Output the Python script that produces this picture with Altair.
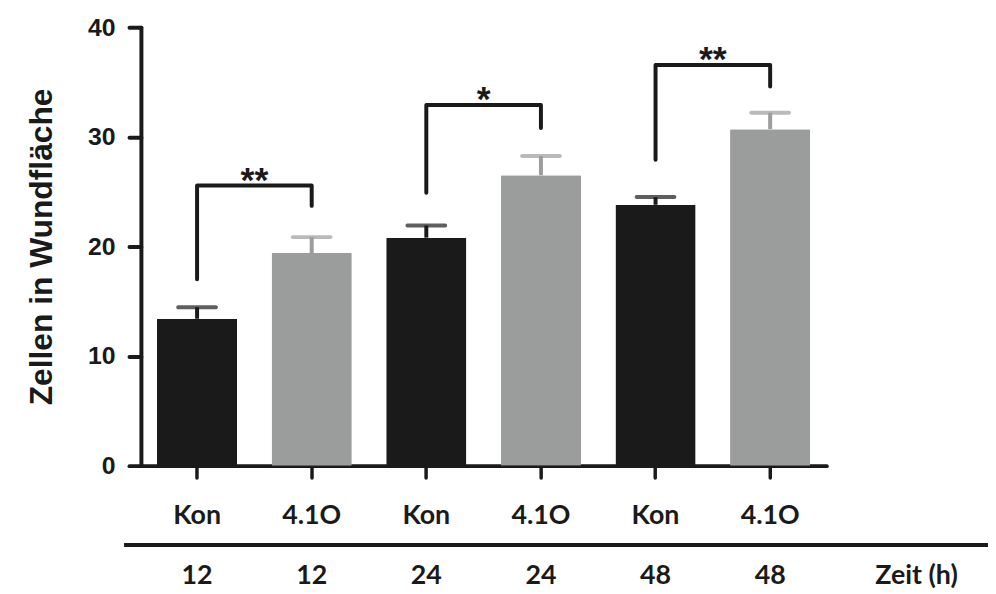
import altair as alt
import pandas as pd

# ---- data ----
keys = ["Kon 12", "4.1O 12", "Kon 24", "4.1O 24", "Kon 48", "4.1O 48"]
groups = ["Kon", "4.1O", "Kon", "4.1O", "Kon", "4.1O"]
times = ["12", "12", "24", "24", "48", "48"]
means = [13.4, 19.4, 20.8, 26.5, 23.8, 30.7]
errors = [1.05, 1.45, 1.1, 1.75, 0.7, 1.5]

bracket_ids = ["b1", "b2", "b3"]
bracket_left = ["Kon 12", "Kon 24", "Kon 48"]
bracket_right = ["4.1O 12", "4.1O 24", "4.1O 48"]
bracket_left_low = [17.0, 24.9, 27.9]
bracket_top = [25.55, 32.9, 36.55]
bracket_right_low = [23.7, 30.8, 34.6]
bracket_stars = ["**", "*", "**"]

y_ticks = [0, 10, 20, 30, 40]
x_title = "Zeit (h)"
y_title = "Zellen in Wundfläche"

# ---- tables ----
bars = pd.DataFrame({"key": keys, "group": groups, "time": times,
                     "mean": means, "err": errors})
bars["upper"] = bars["mean"] + bars["err"]

rows = []
for i, b in enumerate(bracket_ids):
    pts = [(bracket_left[i], bracket_left_low[i]), (bracket_left[i], bracket_top[i]),
           (bracket_right[i], bracket_top[i]), (bracket_right[i], bracket_right_low[i])]
    for j, (k, v) in enumerate(pts):
        rows.append({"bracket": b, "key": k, "v": v, "order": j})
brackets = pd.DataFrame(rows)
stars = pd.DataFrame({"key": bracket_left, "v": bracket_top, "star": bracket_stars})

W, H = 691, 442
DARK = "#1a1a1a"
GRAY = "#9b9c9c"
LABEL_FONT = "Lato"
NUM_FONT = "Liberation Sans"
LABEL_SIZE = 27

xscale = alt.Scale(domain=keys, paddingInner=0.3, paddingOuter=0.14)
yscale = alt.Scale(domain=[0, 40], nice=False, zero=True)
color = alt.Color("group:N", scale=alt.Scale(domain=["Kon", "4.1O"], range=[DARK, GRAY]), legend=None)

xaxis = alt.Axis(title=None, labelExpr="split(datum.label, ' ')[0]", labelAngle=0,
                 labelFont=LABEL_FONT, labelFontSize=LABEL_SIZE, labelFontWeight="bold",
                 labelColor=DARK, labelPadding=25, labelBaseline="top",
                 tickSize=12, tickWidth=3.5, tickColor=DARK, tickCap="round",
                 domainWidth=4, domainColor=DARK, domainCap="round")
yaxis = alt.Axis(title=y_title, values=y_ticks, titleFont=NUM_FONT, titleFontSize=32,
                 titleFontWeight="bold", titleColor=DARK, titlePadding=29,
                 labelFont=NUM_FONT, labelFontSize=25, labelFontWeight="bold",
                 labelColor=DARK, labelPadding=14, grid=False,
                 tickSize=12, tickWidth=4, tickColor=DARK, tickCap="round",
                 domainWidth=4, domainColor=DARK, domainCap="round")

base = alt.Chart(bars)

bar_layer = base.mark_bar(cornerRadius=1).encode(
    x=alt.X("key:N", scale=xscale, axis=xaxis, sort=keys),
    y=alt.Y("mean:Q", scale=yscale, axis=yaxis),
    color=color,
)

err_stem = base.mark_rule(strokeWidth=4).encode(
    x=alt.X("key:N", scale=xscale, sort=keys),
    y="mean:Q", y2="upper:Q", color=color,
)
err_cap = base.mark_tick(thickness=4, size=42, cornerRadius=2).encode(
    x=alt.X("key:N", scale=xscale, sort=keys),
    y="upper:Q", color=color,
)

bracket_layer = alt.Chart(brackets).mark_line(
    strokeWidth=4, color=DARK, strokeCap="round", strokeJoin="round"
).encode(
    x=alt.X("key:N", scale=xscale, sort=keys),
    y=alt.Y("v:Q", scale=yscale),
    detail="bracket:N", order="order:Q",
)

star_layer = alt.Chart(stars).mark_text(
    font=NUM_FONT, fontSize=36, fontWeight="bold", color=DARK,
    baseline="alphabetic", dx=57.8, dy=6
).encode(
    x=alt.X("key:N", scale=xscale, sort=keys),
    y=alt.Y("v:Q", scale=yscale),
    text="star:N",
)

time_layer = base.mark_text(
    font=LABEL_FONT, fontSize=LABEL_SIZE, fontWeight="bold", color=DARK, baseline="middle"
).encode(
    x=alt.X("key:N", scale=xscale, sort=keys),
    y=alt.value(H + 111),
    text="time:N",
)

zeit_layer = alt.Chart(pd.DataFrame({"t": [x_title]})).mark_text(
    font=LABEL_FONT, fontSize=LABEL_SIZE, fontWeight="bold", color=DARK, baseline="middle"
).encode(x=alt.value(782), y=alt.value(H + 111), text="t:N")

sep_line = alt.Chart(pd.DataFrame({"t": [0]})).mark_rule(
    strokeWidth=4, color=DARK
).encode(x=alt.value(-17), x2=alt.value(860), y=alt.value(H + 80))

chart = alt.layer(
    bar_layer, err_stem, err_cap, bracket_layer, star_layer, time_layer, zeit_layer, sep_line
).properties(
    width=W, height=H,
    background="white",
    autosize=alt.AutoSizeParams(type="none"),
    padding={"left": 134, "top": 17, "right": 163, "bottom": 123},
).configure_view(stroke=None)

chart.save("out.html", embed_options={"renderer": "svg", "actions": False})
